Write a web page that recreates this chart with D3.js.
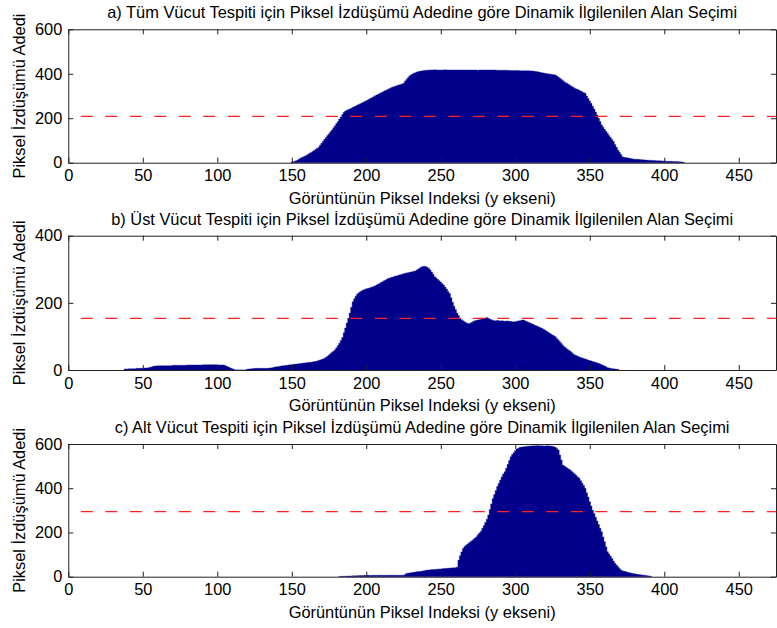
<!DOCTYPE html>
<html>
<head>
<meta charset="utf-8">
<script src="https://cdn.jsdelivr.net/npm/d3@7"></script>
<style>
  body { margin: 0; background: #fff; }
  svg text { font-family: "Liberation Sans", Arial, sans-serif; fill: #000; }
</style>
</head>
<body>
<svg id="chart" width="777" height="628"></svg>
<script>
// panel titles and axis labels
const titles = [
  "a) Tüm Vücut Tespiti için Piksel İzdüşümü Adedine göre Dinamik İlgilenilen Alan Seçimi",
  "b) Üst Vücut Tespiti için Piksel İzdüşümü Adedine göre Dinamik İlgilenilen Alan Seçimi",
  "c) Alt Vücut Tespiti için Piksel İzdüşümü Adedine göre Dinamik İlgilenilen Alan Seçimi"
];
const xLabel = "Görüntünün Piksel Indeksi (y ekseni)";
const yLabel = "Piksel İzdüşümü Adedi";
const xTicks = [0, 50, 100, 150, 200, 250, 300, 350, 400, 450];
const xMax = 475;
const yMaxes = [600, 400, 600];
const yTicks = [[0, 200, 400, 600], [0, 200, 400], [0, 200, 400, 600]];
const thresholds = [208, 154, 294];

// a) full body projection, starting at pixel index 150
const startA = 150;
const valuesA = [
  3,4,6,9,12,17,21,24,27,30,34,38,42,46,50,55,60,64,69,78,87,97,105,113,122,130,139,147,157,166,
  176,185,196,206,217,227,232,236,239,242,245,249,252,255,259,262,265,268,272,275,279,282,286,290,
  293,297,301,304,308,311,315,318,322,325,328,332,335,338,341,343,345,348,350,352,354,357,366,374,
  382,390,395,399,402,405,408,410,411,413,414,415,416,416,417,
  417,417,417,418,417,417,417,417,417,417,418,417,417,417,417,417,417,417,417,417,
  417,417,417,417,417,417,417,417,417,417,417,417,416,417,417,417,417,417,417,417,
  417,417,417,417,417,416,416,416,416,416,416,416,416,415,415,415,415,415,415,415,
  414,414,414,414,414,414,414,413,
  413,412,411,410,409,408,406,405,403,402,401,400,399,398,397,396,395,
  390,385,380,375,370,364,360,356,352,347,343,339,335,332,329,326,322,319,315,312,
  300,289,278,267,254,241,228,215,200,185,170,160,150,141,132,122,113,104,95,82,70,57,47,37,27,
  24,23,22,21,20,18,17,16,16,15,15,14,13,13,12,12,11,11,11,10,10,10,9,9,9,8,
  8,7,7,7,6,6,6,5,5,5,5,4,4,3,2
];

// b) upper body projection, starting at pixel index 38
const startB = 38;
const valuesB = [
  3,3,3,4,4,4,4,4,5,5,5,5,5,6,6,6,7,8,9,11,12,
  12,13,13,13,13,13,13,13,13,13,13,14,14,14,14,14,14,14,14,14,14,15,15,15,15,
  15,15,15,15,15,15,15,16,16,16,16,16,16,16,16,16,16,15,15,15,15,14,
  12,10,8,6,4,2,
  0,0,0,0,0,0,0,0,
  2,3,3,4,4,5,5,5,5,5,5,5,5,5,5,6,6,7,8,
  9,10,10,11,12,13,13,14,14,15,16,16,17,17,18,18,19,19,20,21,21,22,22,23,23,24,25,25,
  27,28,30,31,33,35,38,41,45,49,53,56,60,66,73,80,88,97,111,125,140,154,170,187,203,
  212,220,226,230,233,236,238,240,242,243,244,246,247,249,251,253,256,258,261,263,266,268,271,273,
  274,276,277,279,280,281,283,284,285,287,288,289,290,291,292,293,294,295,298,301,304,307,308,
  309,308,306,303,298,292,285,278,274,270,266,262,257,253,247,241,234,228,215,202,190,180,170,162,154,
  150,147,144,141,139,138,140,142,145,147,148,149,150,151,152,153,155,156,154,152,150,148,147,
  147,148,147,146,147,146,145,146,146,145,145,144,144,144,145,146,147,148,149,
  148,146,144,142,140,138,136,134,132,130,128,126,124,121,119,116,113,110,107,104,102,99,
  94,89,84,79,74,69,66,62,59,56,52,48,45,43,41,39,37,36,34,33,31,30,
  28,27,25,24,23,21,20,18,16,14,12,10,7,6,5,4,4,3,2,2
];

// c) lower body projection, starting at pixel index 182
const startC = 182;
const valuesC = [
  1,1,2,2,2,3,3,3,3,4,4,4,4,5,5,5,
  5,6,6,6,6,5,6,6,6,6,6,7,7,6,6,6,6,6,7,7,7,7,6,6,6,6,7,7,
  10,15,16,17,18,19,20,21,22,23,24,25,26,27,29,
  30,30,31,32,32,33,34,34,35,35,36,37,37,38,38,39,39,40,40,41,44,
  75,95,112,128,136,142,148,153,158,163,169,175,181,190,198,206,219,232,245,260,279,
  304,329,354,372,390,408,422,437,452,464,475,490,508,525,542,552,561,570,577,
  581,584,586,587,588,589,
  590,590,591,591,592,592,592,593,592,592,592,591,591,592,592,591,591,590,588,585,580,
  573,550,528,505,500,496,491,487,482,476,470,464,458,451,445,434,423,412,400,380,360,339,
  320,300,286,269,252,236,219,203,180,158,135,113,103,92,82,71,61,53,45,37,30,
  27,25,23,21,19,18,16,15,13,12,11,10,9,8,7,6,5,4,3,2
];

const series = [
  { start: startA, values: valuesA },
  { start: startB, values: valuesB },
  { start: startC, values: valuesC }
];

const svg = d3.select("#chart");
const left = 68.3, right = 776;
// top and bottom pixel of each axes box
const boxes = [[29.3, 162.7], [235.7, 370], [444, 576.7]];
const fs = "16.4px";

const x = d3.scaleLinear().domain([0, xMax]).range([left, right]);

series.forEach((s, k) => {
  const [top, bottom] = boxes[k];
  const y = d3.scaleLinear().domain([0, yMaxes[k]]).range([bottom, top]);
  const g = svg.append("g");

  const data = s.values.map((v, i) => ({ i: s.start + i, v: v }));
  // closing point so the last bar gets its full width
  data.push({ i: s.start + s.values.length, v: 0 });

  // bars of width 1 drawn as one stepped shape
  const bars = d3.area()
    .curve(d3.curveStepAfter)
    .x(d => x(d.i - 0.5))
    .y0(y(0))
    .y1(d => y(d.v));

  g.append("path")
    .datum(data)
    .attr("d", bars)
    .attr("fill", "#00008b")
    .attr("stroke", "#1a1a9a")
    .attr("stroke-width", 0.4);

  // threshold line
  g.append("line")
    .attr("x1", x(0)).attr("x2", x(xMax))
    .attr("y1", y(thresholds[k])).attr("y2", y(thresholds[k]))
    .attr("stroke", "#ff2020")
    .attr("stroke-width", 1.2)
    .attr("stroke-dasharray", "12,12.5")
    .attr("stroke-dashoffset", 12);

  // axes with inward ticks
  const xb = g.append("g")
    .attr("transform", `translate(0,${bottom})`)
    .call(d3.axisBottom(x).tickValues(xTicks).tickSizeInner(-5).tickSizeOuter(0).tickPadding(7));
  const xt = g.append("g")
    .attr("transform", `translate(0,${top})`)
    .call(d3.axisTop(x).tickValues(xTicks).tickSizeInner(-5).tickSizeOuter(0).tickFormat(""));
  const yl = g.append("g")
    .attr("transform", `translate(${left},0)`)
    .call(d3.axisLeft(y).tickValues(yTicks[k]).tickSizeInner(-5).tickSizeOuter(0).tickPadding(6));
  const yr = g.append("g")
    .attr("transform", `translate(${right},0)`)
    .call(d3.axisRight(y).tickValues(yTicks[k]).tickSizeInner(-5).tickSizeOuter(0).tickFormat(""));

  [xb, xt, yl, yr].forEach(a => {
    a.select(".domain").attr("stroke", "#222");
    a.selectAll(".tick line").attr("stroke", "#222");
    a.selectAll("text").style("font-size", fs).attr("fill", "#000");
  });

  // titles and labels
  g.append("text")
    .attr("x", (left + right) / 2)
    .attr("y", top - 11)
    .attr("text-anchor", "middle")
    .style("font-size", fs)
    .text(titles[k]);

  g.append("text")
    .attr("x", (left + right) / 2)
    .attr("y", bottom + 41)
    .attr("text-anchor", "middle")
    .style("font-size", fs)
    .text(xLabel);

  g.append("text")
    .attr("transform", `translate(24.5,${(top + bottom) / 2}) rotate(-90)`)
    .attr("text-anchor", "middle")
    .style("font-size", fs)
    .text(yLabel);
});
</script>
</body>
</html>
